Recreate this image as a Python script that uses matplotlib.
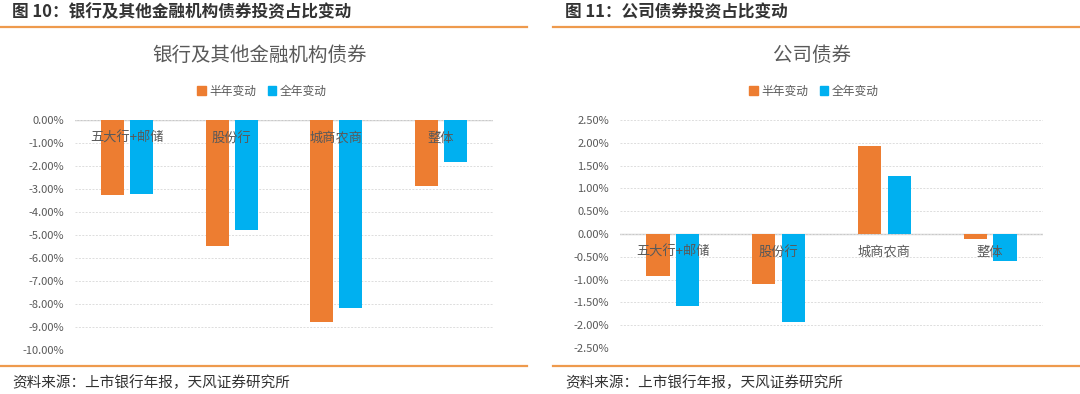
import numpy as np
import matplotlib.pyplot as plt
from matplotlib.lines import Line2D
from matplotlib.patches import Patch

plt.rcParams['font.family'] = ['Noto Sans CJK SC', 'DejaVu Sans']

categories = ['五大行+邮储', '股份行', '城商农商', '整体']
series_names = ['半年变动', '全年变动']

# 银行及其他金融机构债券 (%)
bank_half = [-3.24, -5.48, -8.79, -2.88]
bank_full = [-3.23, -4.77, -8.17, -1.83]

# 公司债券 (%)
corp_half = [-0.93, -1.10, 1.92, -0.12]
corp_full = [-1.57, -1.94, 1.28, -0.60]

left_ticks = np.arange(-10, 0.01, 1.0)
right_ticks = np.arange(-2.5, 2.51, 0.5)

ORANGE = '#ED7D31'
BLUE = '#00B0F0'
LINE = '#EE9A4D'
W, H = 1080, 394

fig = plt.figure(figsize=(W / 100, H / 100), dpi=100)


def fx(px):
    return px / W


def fy(py):
    return 1 - py / H


def panel(ax, half, full, ticks, title, title_x, legend_x):
    x = np.arange(len(categories))
    bw = 0.22
    ax.bar(x - 0.14, half, bw, color=ORANGE, zorder=2)
    ax.bar(x + 0.14, full, bw, color=BLUE, zorder=2)
    ax.set_xlim(-0.5, len(categories) - 0.5)
    ax.set_ylim(ticks[0], ticks[-1])
    ax.set_yticks(ticks)
    ax.set_yticklabels(['%.2f%%' % t for t in ticks], fontsize=8, color='#595959')
    ax.tick_params(axis='y', length=0, pad=8)
    ax.set_xticks([])
    for s in ax.spines.values():
        s.set_visible(False)
    ax.grid(axis='y', color='#DDDDDD', linestyle=(0, (2, 1.5)), linewidth=0.7, zorder=0)
    ax.axhline(0, color='#C8C8C8', linewidth=1.0, zorder=1)
    for i, c in enumerate(categories):
        ax.annotate(c, (i, 0), xytext=(0, -13), textcoords='offset points',
                    ha='center', va='center', fontsize=9.5, color='#595959', zorder=3)
    fig.text(fx(title_x), fy(55), title, ha='center', va='center',
             fontsize=14, color='#595959')
    handles = [Patch(color=ORANGE, label=series_names[0]),
               Patch(color=BLUE, label=series_names[1])]
    fig.legend(handles=handles, loc='center', bbox_to_anchor=(fx(legend_x), fy(91)),
               ncol=2, frameon=False, fontsize=8.5, handlelength=0.7, handleheight=0.7,
               handletextpad=0.3, columnspacing=1.0, labelcolor='#595959')


ax1 = fig.add_axes([fx(75), fy(350), fx(493 - 75), (350 - 120) / H])
panel(ax1, bank_half, bank_full, left_ticks, '银行及其他金融机构债券', 260, 262)

ax2 = fig.add_axes([fx(620), fy(348), fx(1043 - 620), (348 - 120) / H])
panel(ax2, corp_half, corp_full, right_ticks, '公司债券', 812, 814)

# headers, separator lines and sources
fig.text(fx(12), fy(12), '图 10：银行及其他金融机构债券投资占比变动', ha='left', va='center',
         fontsize=12, fontweight='bold', color='#333333')
fig.text(fx(565), fy(12), '图 11：公司债券投资占比变动', ha='left', va='center',
         fontsize=12, fontweight='bold', color='#333333')
for x0, x1 in [(0, 527), (553, 1080)]:
    for yy in (27, 366):
        fig.add_artist(Line2D([fx(x0), fx(x1)], [fy(yy), fy(yy)], color=LINE, linewidth=1.6))
fig.text(fx(12), fy(383), '资料来源：上市银行年报，天风证券研究所', ha='left', va='center',
         fontsize=10.5, color='#333333')
fig.text(fx(565), fy(383), '资料来源：上市银行年报，天风证券研究所', ha='left', va='center',
         fontsize=10.5, color='#333333')

fig.savefig('out.png', dpi=100, facecolor='white')
